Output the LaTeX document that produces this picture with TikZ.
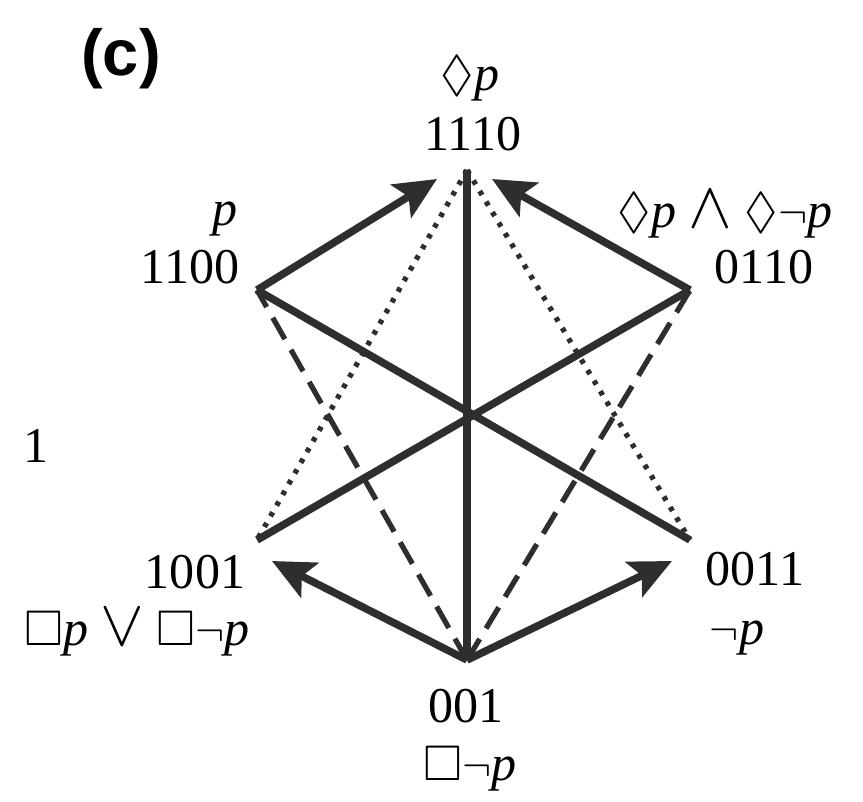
\documentclass[tikz,border=0pt]{standalone}
\usepackage{amssymb}
\usepackage{fontspec}
\setmainfont{Liberation Serif}
\newfontfamily\panelfont{Liberation Sans}
\usetikzlibrary{arrows.meta}
\newcommand{\bigand}{\smash{\raisebox{-0.5pt}{\scalebox{1.5}{$\wedge$}}}}
\newcommand{\bigor}{\smash{\raisebox{-0.5pt}{\scalebox{1.5}{$\vee$}}}}
\tikzset{
  edge/.style={line width=4.3pt, draw=black!82},
  dashedge/.style={line width=3pt, draw=black!82, dash pattern=on 14pt off 7pt},
  dotedge/.style={line width=3pt, draw=black!82, dash pattern=on 2.6pt off 4.4pt},
  arr/.style={edge, -{Stealth[length=24pt,width=22pt,inset=5pt]}},
  lbl/.style={font=\fontsize{28.5}{34}\selectfont, inner sep=0pt, anchor=base}
}

\begin{document}
\begin{tikzpicture}[x=0.02cm,y=-0.02cm]
  \useasboundingbox (0,0) rectangle (863,802);
  % corners of the figure
  \coordinate (t) at (467,170);
  \coordinate (ul) at (257,290);
  \coordinate (ur) at (690,290);
  \coordinate (ll) at (257,540);
  \coordinate (lr) at (690,540);
  \coordinate (b) at (467,660);
  % where the arrow tips stop
  \coordinate (tl) at (437,179);
  \coordinate (tr) at (492,179);
  \coordinate (bl) at (272,561);
  \coordinate (br) at (672,561);

  \draw[dotedge] (t) -- (ll);
  \draw[dotedge] (t) -- (lr);
  \draw[dashedge] (b) -- (ul);
  \draw[dashedge] (b) -- (ur);
  \draw[edge] (t) -- (b);
  \draw[edge] (ul) -- (lr);
  \draw[edge] (ur) -- (ll);
  \draw[arr] (ul) -- (tl);
  \draw[arr] (ur) -- (tr);
  \draw[arr] (b) -- (bl);
  \draw[arr] (b) -- (br);

  \node[font=\panelfont\bfseries\fontsize{37}{42}\selectfont, inner sep=0pt, anchor=base] (panel) at (121,75) {(c)};
  \node[lbl] (one) at (36,462) {1};
  \node[lbl] (f1110) at (470,90) {$\Diamond$\textit{p}};
  \node[lbl] (n1110) at (473,150) {1110};
  \node[lbl] (f1100) at (225,225) {\textit{p}};
  \node[lbl] (n1100) at (190,283) {1100};
  \node[lbl] (f0110) at (725,227) {$\Diamond$\textit{p} \bigand{} $\Diamond\neg$\textit{p}};
  \node[lbl] (n0110) at (764,283) {0110};
  \node[lbl] (n1001) at (195,588) {1001};
  \node[lbl] (f1001) at (137,645) {$\Box$\textit{p} \bigor{} $\Box\neg$\textit{p}};
  \node[lbl] (n0011) at (755,585) {0011};
  \node[lbl] (f0011) at (737,644) {$\neg$\textit{p}};
  \node[lbl] (n001) at (466,722) {001};
  \node[lbl] (f001) at (470,780) {$\Box\neg$\textit{p}};
\end{tikzpicture}
\end{document}
